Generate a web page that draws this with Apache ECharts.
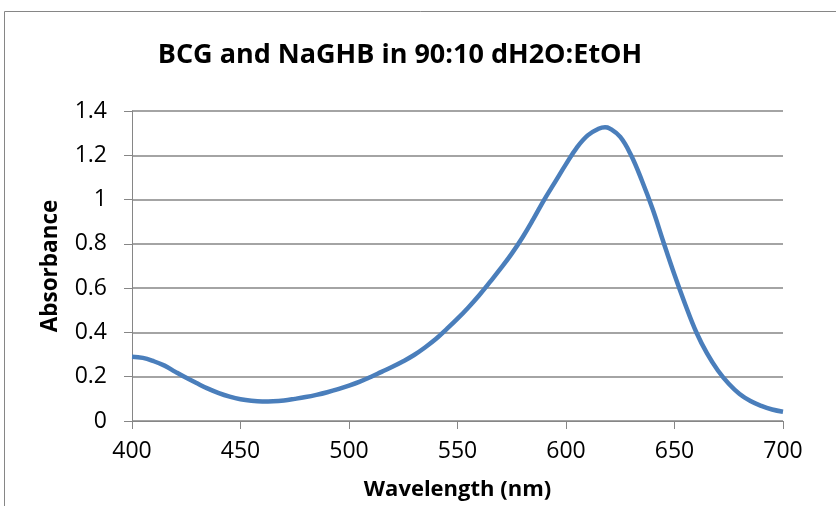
<!DOCTYPE html>
<html>
<head>
<meta charset="utf-8">
<script src="https://cdn.jsdelivr.net/npm/echarts@6/dist/echarts.min.js"></script>
<style>
  html, body { margin: 0; padding: 0; background: #fff; }
  #chart { width: 836px; height: 506px; }
</style>
</head>
<body>
<div id="chart"></div>
<script>
// Absorption spectrum of BCG + NaGHB, wavelength in nm
const wavelengths = [400, 405, 410, 415, 420, 425, 430, 435, 440, 445, 450, 455, 460, 465, 470, 475,
  480, 485, 490, 495, 500, 505, 510, 515, 520, 525, 530, 535, 540, 545, 550, 555, 560, 565, 570,
  575, 580, 585, 590, 595, 600, 605, 610, 615, 618, 620, 625, 630, 635, 640, 645, 650, 655, 660,
  665, 670, 675, 680, 685, 690, 695, 700];
const absorbance = [0.29, 0.285, 0.27, 0.25, 0.222, 0.195, 0.17, 0.146, 0.126, 0.11, 0.098, 0.091,
  0.088, 0.089, 0.093, 0.1, 0.108, 0.118, 0.13, 0.144, 0.16, 0.178, 0.199, 0.222, 0.245, 0.27, 0.298,
  0.332, 0.37, 0.415, 0.462, 0.513, 0.568, 0.628, 0.69, 0.756, 0.83, 0.913, 1.0, 1.08, 1.16, 1.235,
  1.29, 1.32, 1.327, 1.322, 1.283, 1.2, 1.085, 0.955, 0.805, 0.66, 0.525, 0.402, 0.305, 0.228, 0.168,
  0.122, 0.09, 0.068, 0.052, 0.042];
const xTicks = [400, 450, 500, 550, 600, 650, 700];
const yTicks = [0, 0.2, 0.4, 0.6, 0.8, 1, 1.2, 1.4];

const titleText = 'BCG and NaGHB in 90:10 dH2O:EtOH';
const xName = 'Wavelength (nm)';
const yName = 'Absorbance';

const font = '"Open Sans", "Noto Sans", sans-serif';
const gridGray = '#868686';

const chart = echarts.init(document.getElementById('chart'), null, { renderer: 'canvas' });
chart.setOption({
  animation: false,
  backgroundColor: '#ffffff',
  textStyle: { fontFamily: font },
  title: {
    text: titleText,
    left: 395, top: 37, textAlign: 'center',
    textStyle: { fontFamily: font, fontSize: 27, fontWeight: 'bold', color: '#000' }
  },
  graphic: [{
    type: 'rect',
    shape: { x: 4.5, y: 11.5, width: 900, height: 600 },
    style: { fill: 'none', stroke: gridGray, lineWidth: 1 },
    silent: true
  }],
  grid: { left: 132, right: 53, top: 111, bottom: 85, containLabel: false, outerBoundsMode: 'none' },
  xAxis: {
    type: 'value',
    min: xTicks[0], max: xTicks[xTicks.length - 1], interval: 50,
    name: xName, nameLocation: 'middle', nameGap: 58, nameMoveOverlap: false,
    nameTextStyle: { fontFamily: font, fontSize: 22, fontWeight: 'bold', color: '#000' },
    axisLine: { show: true, lineStyle: { color: gridGray, width: 1 } },
    axisTick: { show: true, length: 8, lineStyle: { color: gridGray } },
    axisLabel: { fontFamily: font, fontSize: 23, color: '#000', margin: 19 },
    splitLine: { show: false }
  },
  yAxis: {
    type: 'value',
    min: yTicks[0], max: yTicks[yTicks.length - 1], interval: 0.2,
    name: yName, nameLocation: 'middle', nameGap: 70, nameRotate: 90, nameMoveOverlap: false,
    nameTextStyle: { fontFamily: font, fontSize: 22.5, fontWeight: 'bold', color: '#000' },
    axisLine: { show: true, lineStyle: { color: gridGray, width: 1 } },
    axisTick: { show: true, length: 8, lineStyle: { color: gridGray } },
    axisLabel: {
      fontFamily: font, fontSize: 23, color: '#000', margin: 25,
      formatter: v => String(Math.round(v * 10) / 10)
    },
    splitLine: { show: true, lineStyle: { color: gridGray, width: 1.5 } }
  },
  series: [{
    type: 'line',
    data: wavelengths.map((w, i) => [w, absorbance[i]]),
    smooth: 0.4,
    showSymbol: false,
    lineStyle: { color: '#4a7ebb', width: 4.5 },
    clip: false
  }]
});
</script>
</body>
</html>
